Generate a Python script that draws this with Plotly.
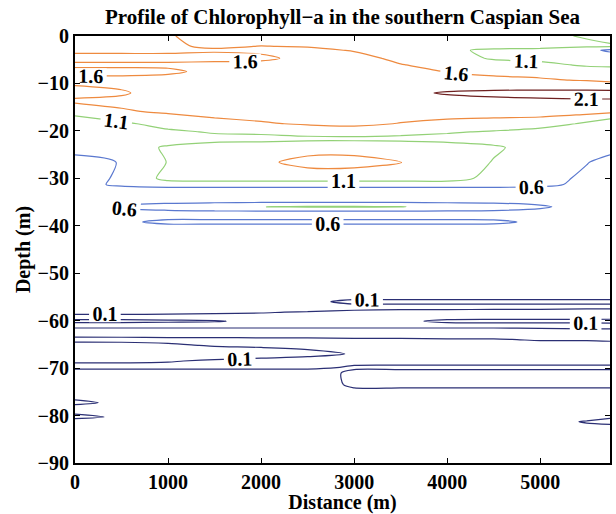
import plotly.graph_objects as go

# Horizontal distance along the transect (m)
distance_m = [0, 500, 1000, 1500, 2000, 2500, 3000, 3500, 4000, 4500, 5000, 5500, 5750]

# Sampling depths (m, negative downward)
depth_m = [0, -2.2, -3.0, -4.7, -6.1, -7.5, -9.3, -12.0, -13.7, -16.0,
           -18.5, -20.2, -21.6, -23.5, -26.6, -30.0, -31.3, -32.5, -34.9, -36.0,
           -37.1, -38.3, -39.2, -40.2, -48.0, -54.5, -56.0, -57.0, -58.2, -59.3,
           -60.1, -60.9, -62.2, -63.0, -64.0, -65.2, -67.0, -68.5, -69.9, -71.0,
           -73.5, -75.5, -77.3, -78.5, -80.3, -81.3, -83.0, -90.0]

# Chlorophyll-a (mg/m3), one row per depth, one column per distance
chlorophyll = [
    [1.75, 1.70, 1.62, 1.50, 1.45, 1.45, 1.40, 1.35, 1.30, 1.25, 1.15, 1.08, 1.05],
    [1.75, 1.72, 1.65, 1.55, 1.61, 1.58, 1.50, 1.40, 1.35, 1.30, 1.25, 1.15, 1.12],
    [1.70, 1.70, 1.70, 1.65, 1.70, 1.70, 1.57, 1.45, 1.20, 1.00, 0.95, 0.75, 0.50],
    [1.45, 1.45, 1.45, 1.45, 1.50, 1.75, 1.75, 1.50, 1.30, 1.05, 1.00, 0.95, 0.95],
    [1.70, 1.70, 1.70, 1.75, 1.75, 1.80, 1.80, 1.62, 1.45, 1.30, 1.20, 1.05, 1.02],
    [1.45, 1.45, 1.50, 1.75, 1.80, 1.85, 1.85, 1.80, 1.58, 1.50, 1.45, 1.30, 1.30],
    [1.75, 1.75, 1.80, 1.85, 1.85, 1.90, 1.90, 1.90, 1.75, 1.70, 1.65, 1.57, 1.50],
    [1.40, 1.55, 1.80, 1.90, 1.95, 1.95, 1.95, 2.00, 2.14, 2.20, 2.23, 2.25, 2.25],
    [1.70, 1.70, 1.75, 1.80, 1.85, 1.85, 1.85, 1.85, 1.95, 2.00, 2.03, 2.05, 2.05],
    [1.20, 1.55, 1.65, 1.75, 1.80, 1.85, 1.85, 1.80, 1.75, 1.75, 1.75, 1.75, 1.68],
    [0.90, 1.00, 1.30, 1.45, 1.55, 1.65, 1.70, 1.58, 1.50, 1.45, 1.40, 1.00, 0.70],
    [0.85, 0.95, 1.00, 1.15, 1.20, 1.30, 1.35, 1.25, 1.15, 1.05, 0.85, 0.90, 0.75],
    [0.80, 0.90, 0.90, 0.95, 0.95, 1.00, 1.00, 0.98, 0.95, 0.95, 0.80, 0.85, 0.80],
    [0.75, 0.90, 1.15, 1.30, 1.35, 1.38, 1.40, 1.38, 1.30, 1.15, 0.95, 0.85, 0.75],
    [0.45, 0.62, 1.12, 1.35, 1.50, 1.76, 1.76, 1.62, 1.35, 1.08, 0.90, 0.62, 0.45],
    [0.45, 0.65, 1.25, 1.30, 1.30, 1.30, 1.30, 1.30, 1.30, 0.95, 0.80, 0.50, 0.40],
    [0.40, 0.70, 0.85, 0.85, 0.85, 0.85, 0.85, 0.85, 0.85, 0.85, 0.75, 0.45, 0.40],
    [0.35, 0.35, 0.35, 0.35, 0.35, 0.35, 0.35, 0.35, 0.35, 0.35, 0.35, 0.35, 0.35],
    [0.40, 0.50, 0.50, 0.50, 0.50, 0.50, 0.50, 0.50, 0.50, 0.50, 0.50, 0.45, 0.40],
    [0.40, 0.65, 0.80, 0.95, 1.095, 1.14, 1.14, 1.12, 0.95, 0.85, 0.65, 0.45, 0.40],
    [0.40, 0.50, 0.50, 0.50, 0.50, 0.50, 0.50, 0.50, 0.50, 0.50, 0.50, 0.45, 0.40],
    [0.40, 0.45, 0.50, 0.50, 0.50, 0.50, 0.50, 0.50, 0.50, 0.50, 0.50, 0.45, 0.40],
    [0.40, 0.50, 0.72, 0.72, 0.72, 0.72, 0.72, 0.72, 0.72, 0.70, 0.50, 0.45, 0.40],
    [0.40, 0.45, 0.45, 0.45, 0.45, 0.45, 0.45, 0.45, 0.45, 0.45, 0.45, 0.45, 0.40],
    [0.35, 0.35, 0.35, 0.35, 0.35, 0.35, 0.35, 0.35, 0.35, 0.35, 0.35, 0.35, 0.35],
    [0.20, 0.20, 0.20, 0.20, 0.20, 0.20, 0.20, 0.20, 0.20, 0.20, 0.20, 0.20, 0.20],
    [0.20, 0.20, 0.20, 0.20, 0.20, 0.14, 0.06, 0.06, 0.06, 0.06, 0.06, 0.06, 0.06],
    [0.20, 0.20, 0.20, 0.20, 0.20, 0.20, 0.14, 0.14, 0.14, 0.14, 0.14, 0.14, 0.14],
    [0.14, 0.14, 0.13, 0.12, 0.11, 0.09, 0.08, 0.07, 0.07, 0.06, 0.06, 0.05, 0.05],
    [0.05, 0.05, 0.05, 0.05, 0.05, 0.05, 0.05, 0.05, 0.05, 0.05, 0.05, 0.05, 0.05],
    [0.13, 0.13, 0.12, 0.11, 0.07, 0.06, 0.06, 0.07, 0.13, 0.14, 0.14, 0.14, 0.15],
    [0.05, 0.05, 0.05, 0.05, 0.05, 0.05, 0.05, 0.05, 0.05, 0.05, 0.05, 0.05, 0.05],
    [0.15, 0.15, 0.15, 0.15, 0.15, 0.15, 0.15, 0.15, 0.15, 0.15, 0.14, 0.13, 0.13],
    [0.15, 0.15, 0.15, 0.15, 0.15, 0.15, 0.15, 0.15, 0.15, 0.15, 0.15, 0.15, 0.15],
    [0.04, 0.05, 0.06, 0.06, 0.07, 0.07, 0.08, 0.08, 0.09, 0.09, 0.11, 0.11, 0.12],
    [0.18, 0.16, 0.12, 0.09, 0.08, 0.06, 0.05, 0.05, 0.05, 0.05, 0.05, 0.05, 0.05],
    [0.20, 0.20, 0.20, 0.18, 0.16, 0.14, 0.09, 0.05, 0.05, 0.05, 0.05, 0.05, 0.05],
    [0.12, 0.12, 0.11, 0.08, 0.06, 0.04, 0.04, 0.05, 0.05, 0.05, 0.05, 0.05, 0.05],
    [0.05, 0.05, 0.05, 0.05, 0.05, 0.05, 0.13, 0.13, 0.13, 0.13, 0.13, 0.13, 0.13],
    [0.23, 0.23, 0.23, 0.23, 0.23, 0.23, 0.05, 0.05, 0.05, 0.05, 0.05, 0.05, 0.05],
    [0.20, 0.20, 0.20, 0.20, 0.20, 0.20, 0.07, 0.07, 0.07, 0.07, 0.07, 0.07, 0.07],
    [0.20, 0.20, 0.20, 0.20, 0.20, 0.20, 0.16, 0.16, 0.16, 0.16, 0.16, 0.16, 0.16],
    [0.05, 0.15, 0.20, 0.20, 0.20, 0.20, 0.20, 0.20, 0.20, 0.20, 0.20, 0.20, 0.20],
    [0.20, 0.20, 0.20, 0.20, 0.20, 0.20, 0.20, 0.20, 0.20, 0.20, 0.20, 0.20, 0.20],
    [0.05, 0.13, 0.20, 0.20, 0.20, 0.20, 0.20, 0.20, 0.20, 0.20, 0.20, 0.20, 0.12],
    [0.20, 0.20, 0.20, 0.20, 0.20, 0.20, 0.20, 0.20, 0.20, 0.20, 0.20, 0.08, 0.05],
    [0.20, 0.20, 0.20, 0.20, 0.20, 0.20, 0.20, 0.20, 0.20, 0.20, 0.20, 0.20, 0.20],
    [0.20, 0.20, 0.20, 0.20, 0.20, 0.20, 0.20, 0.20, 0.20, 0.20, 0.20, 0.20, 0.20],
]

# Contour levels and their line colours
level_start, level_end, level_step = 0.1, 2.1, 0.5
level_colors = ["#2b2f74", "#5a78cf", "#93d177", "#ee8a3f", "#6e2020"]

x_ticks = [0, 1000, 2000, 3000, 4000, 5000]
y_ticks = [0, -10, -20, -30, -40, -50, -60, -70, -80, -90]

serif = "Liberation Serif"
colorscale = [[i / (len(level_colors) - 1), c] for i, c in enumerate(level_colors)]

fig = go.Figure(
    go.Contour(
        x=distance_m,
        y=depth_m,
        z=chlorophyll,
        zmin=level_start,
        zmax=level_end,
        autocontour=False,
        contours=dict(
            start=level_start,
            end=level_end,
            size=level_step,
            coloring="lines",
            showlabels=True,
            labelformat=".1f",
            labelfont=dict(family=serif, size=20, color="black", weight="bold"),
        ),
        line=dict(width=1.2, smoothing=0.8),
        colorscale=colorscale,
        showscale=False,
        hoverinfo="skip",
    )
)

axis_common = dict(
    showline=True,
    linecolor="black",
    linewidth=2,
    mirror="ticks",
    ticks="inside",
    ticklen=5,
    tickcolor="black",
    showgrid=False,
    zeroline=False,
    tickfont=dict(family=serif, size=20, color="black", weight="bold"),
)

fig.update_layout(
    width=616,
    height=514,
    margin=dict(l=75, r=4, t=36, b=51),
    paper_bgcolor="white",
    plot_bgcolor="white",
    font=dict(family=serif, color="black"),
    title=dict(
        text="<b>Profile of Chlorophyll\u2212a in the southern Caspian Sea</b>",
        x=0.5,
        xref="paper",
        y=1 - 17 / 514,
        yref="container",
        yanchor="middle",
        font=dict(family=serif, size=21, color="black"),
    ),
    xaxis=dict(
        range=[0, 5750],
        tickvals=x_ticks,
        title=dict(text="<b>Distance (m)</b>", font=dict(family=serif, size=20), standoff=0),
        **axis_common,
    ),
    yaxis=dict(
        range=[-90, 0],
        tickvals=y_ticks,
        title=dict(text="<b>Depth (m)</b>", font=dict(family=serif, size=20), standoff=2),
        **axis_common,
    ),
)

fig.write_html("out.html")
